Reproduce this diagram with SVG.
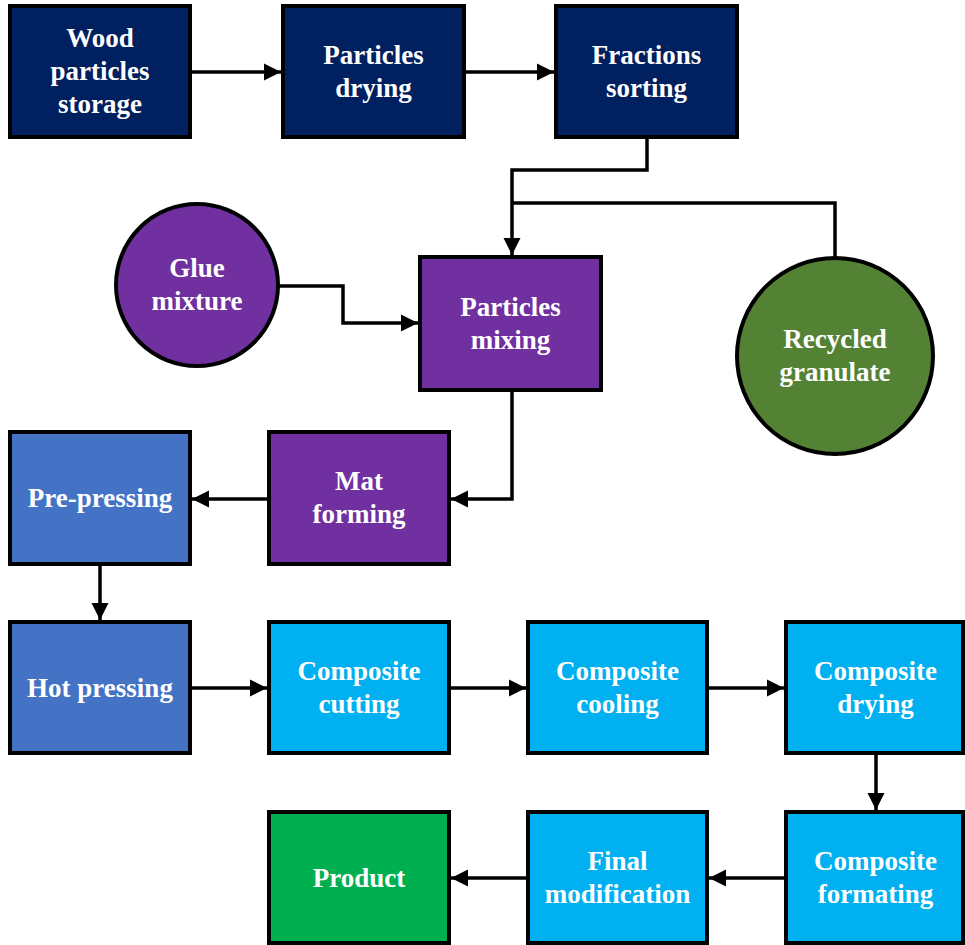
<svg xmlns="http://www.w3.org/2000/svg" width="965" height="945" viewBox="0 0 965 945">
<style>
.n rect, .n circle { stroke: #000; stroke-width: 4; }
.navy { fill: #002060; }
.purple { fill: #7030A0; }
.blue { fill: #4472C4; }
.cyan { fill: #00B0F0; }
.green { fill: #00B050; }
.dgreen { fill: #548235; }
text { font-family: 'Liberation Serif', 'DejaVu Serif', serif; font-weight: bold; font-size: 27px; fill: #fff; text-anchor: middle; }
.c path { fill: none; stroke: #000; stroke-width: 3.5; }
</style>
<defs>
<marker id="ah" markerUnits="userSpaceOnUse" markerWidth="18" markerHeight="18" refX="17" refY="9" orient="auto">
<path d="M0,0.5 L17,9 L0,17.5 z" fill="#000"/>
</marker>
</defs>
<rect width="965" height="945" fill="#fff"/>
<g id="connectors" class="c">
<path d="M192,72 H281" marker-end="url(#ah)"/>
<path d="M466,72 H554" marker-end="url(#ah)"/>
<path d="M647,139 V170 H512 V255" marker-end="url(#ah)"/>
<path d="M512,203 H835 V256"/>
<path d="M279,286 H343 V323 H418" marker-end="url(#ah)"/>
<path d="M512,392 V499 H451" marker-end="url(#ah)"/>
<path d="M267,499 H192" marker-end="url(#ah)"/>
<path d="M100,566 V620" marker-end="url(#ah)"/>
<path d="M192,688 H267" marker-end="url(#ah)"/>
<path d="M451,688 H526" marker-end="url(#ah)"/>
<path d="M709,688 H784" marker-end="url(#ah)"/>
<path d="M876,755 V810" marker-end="url(#ah)"/>
<path d="M784,878 H709" marker-end="url(#ah)"/>
<path d="M526,878 H451" marker-end="url(#ah)"/>
</g>
<g id="wood" class="n"><rect class="navy" x="10" y="6" width="180" height="131"/><text x="100" y="47">Wood</text><text x="100" y="80">particles</text><text x="100" y="113">storage</text></g>
<g id="drying1" class="n"><rect class="navy" x="283" y="6" width="181" height="131"/><text x="373.5" y="64">Particles</text><text x="373.5" y="97">drying</text></g>
<g id="sorting" class="n"><rect class="navy" x="556" y="6" width="181" height="131"/><text x="646.5" y="64">Fractions</text><text x="646.5" y="97">sorting</text></g>
<g id="glue" class="n"><circle class="purple" cx="197" cy="285" r="81"/><text x="197" y="277">Glue</text><text x="197" y="310">mixture</text></g>
<g id="mixing" class="n"><rect class="purple" x="420" y="257" width="181" height="133"/><text x="510.5" y="316">Particles</text><text x="510.5" y="349">mixing</text></g>
<g id="recycled" class="n"><circle class="dgreen" cx="835" cy="356" r="98"/><text x="835" y="348">Recycled</text><text x="835" y="381">granulate</text></g>
<g id="prepressing" class="n"><rect class="blue" x="10" y="432" width="180" height="132"/><text x="100" y="507">Pre-pressing</text></g>
<g id="mat" class="n"><rect class="purple" x="269" y="432" width="180" height="132"/><text x="359" y="490">Mat</text><text x="359" y="523">forming</text></g>
<g id="hot" class="n"><rect class="blue" x="10" y="622" width="180" height="131"/><text x="100" y="697">Hot pressing</text></g>
<g id="cutting" class="n"><rect class="cyan" x="269" y="622" width="180" height="131"/><text x="359" y="680">Composite</text><text x="359" y="713">cutting</text></g>
<g id="cooling" class="n"><rect class="cyan" x="528" y="622" width="179" height="131"/><text x="617.5" y="680">Composite</text><text x="617.5" y="713">cooling</text></g>
<g id="cdrying" class="n"><rect class="cyan" x="786" y="622" width="177" height="131"/><text x="875.5" y="680">Composite</text><text x="875.5" y="713">drying</text></g>
<g id="product" class="n"><rect class="green" x="269" y="812" width="180" height="131"/><text x="359" y="887">Product</text></g>
<g id="final" class="n"><rect class="cyan" x="528" y="812" width="179" height="131"/><text x="617.5" y="870">Final</text><text x="617.5" y="903">modification</text></g>
<g id="formating" class="n"><rect class="cyan" x="786" y="812" width="177" height="131"/><text x="875.5" y="870">Composite</text><text x="875.5" y="903">formating</text></g>
</svg>
